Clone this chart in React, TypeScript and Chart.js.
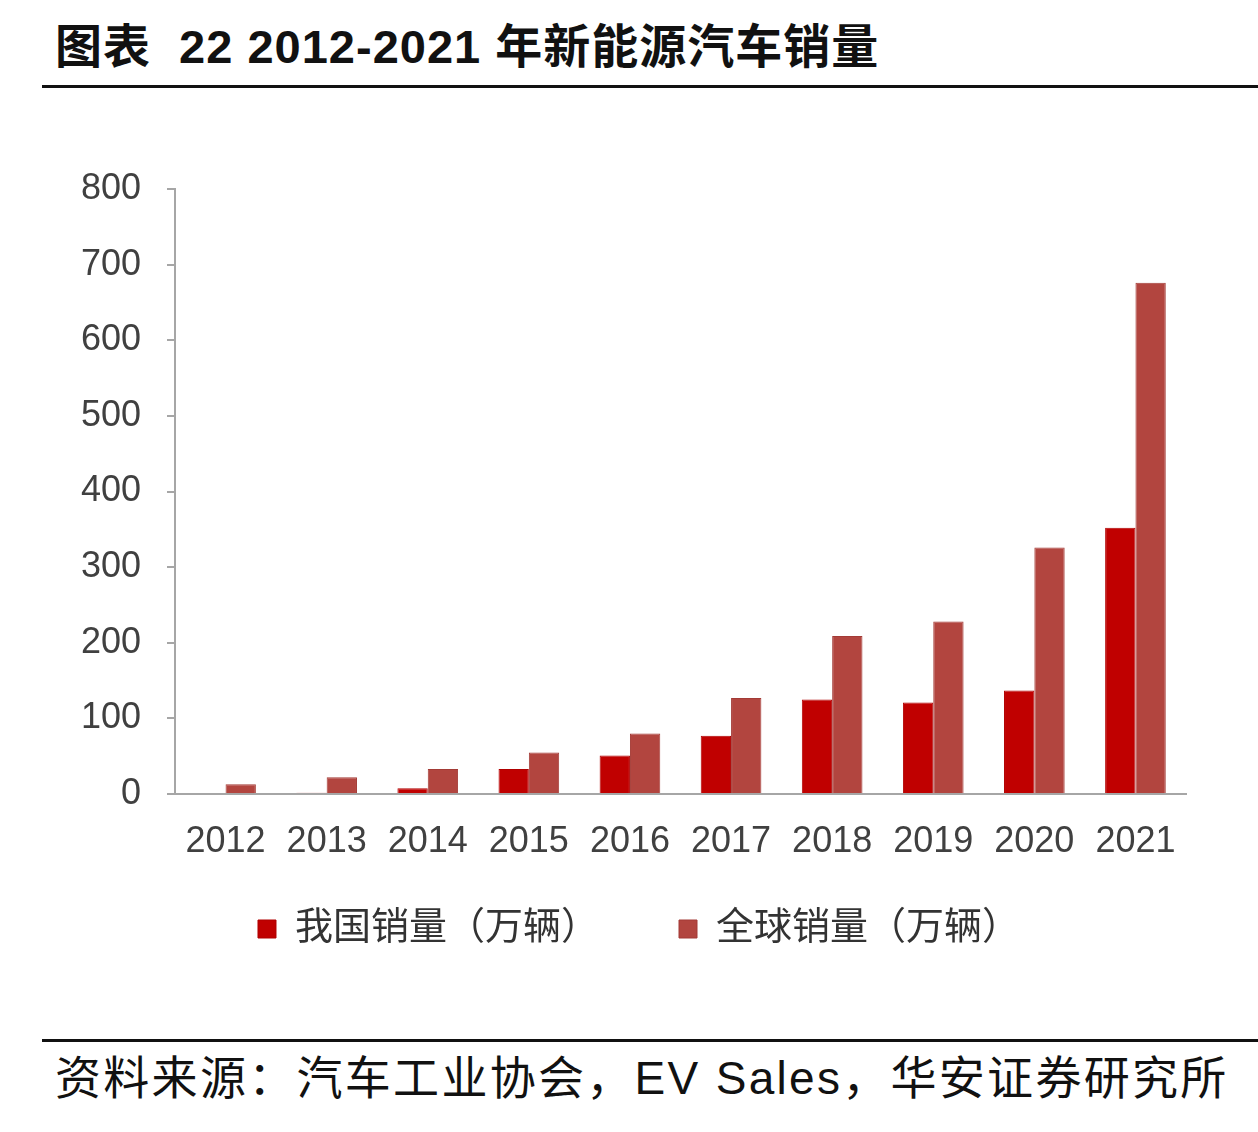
import React, { useEffect, useRef } from "react";
import { Chart, registerables } from "chart.js";

Chart.register(...registerables);

const years = ["2012", "2013", "2014", "2015", "2016", "2017", "2018", "2019", "2020", "2021"];
const chinaSales = [1.3, 1.8, 7.5, 33, 51, 77, 125, 121, 137, 352];
const globalSales = [13, 22, 33, 55, 80, 127, 209, 228, 326, 676];
const seriesNames = ["我国销量（万辆）", "全球销量（万辆）"];
const yTicks = [0, 100, 200, 300, 400, 500, 600, 700, 800];

const titleText = "图表  22 2012-2021 年新能源汽车销量";
const sourceText = "资料来源：汽车工业协会，EV Sales，华安证券研究所";

const CJK = '"Liberation Sans", "Noto Sans CJK SC", sans-serif';

const legendPlace = {
  id: "legendPlace",
  afterLayout(chart: any) {
    const lg = chart.legend;
    if (!lg) return;
    const h = lg.bottom - lg.top;
    lg.left = 92;
    lg.top = 830;
    lg.bottom = 830 + h;
  },
};

export default function App() {
  const ref = useRef<HTMLCanvasElement | null>(null);

  useEffect(() => {
    if (!ref.current) return;
    const chart = new Chart(ref.current, {
      type: "bar",
      data: {
        labels: years,
        datasets: [
          {
            label: seriesNames[0],
            data: chinaSales,
            backgroundColor: "#C00000",
            borderColor: "#B00000",
            borderWidth: 1,
            barPercentage: 1,
            categoryPercentage: 0.6,
          },
          {
            label: seriesNames[1],
            data: globalSales,
            backgroundColor: "#B2453F",
            borderColor: "#A33B36",
            borderWidth: 1,
            barPercentage: 1,
            categoryPercentage: 0.6,
          },
        ],
      },
      plugins: [legendPlace],
      options: {
        responsive: false,
        animation: false,
        maintainAspectRatio: false,
        layout: { padding: { top: 189, right: 72, bottom: 0, left: 0 } },
        plugins: {
          legend: {
            position: "bottom",
            labels: {
              boxWidth: 18,
              boxHeight: 18,
              padding: 80,
              color: "#333333",
              font: { size: 38, family: CJK },
            },
          },
          tooltip: { enabled: false },
        },
        scales: {
          x: {
            grid: { display: false, drawTicks: false },
            border: { display: true, color: "#A6A6A6", width: 2 },
            ticks: {
              color: "#404040",
              padding: 26,
              font: { size: 36, family: '"Liberation Sans", sans-serif' },
              maxRotation: 0,
            },
            afterFit: (s: any) => {
              s.height = 80;
            },
          },
          y: {
            min: 0,
            max: 800,
            afterBuildTicks: (s: any) => {
              s.ticks = yTicks.map((v) => ({ value: v }));
            },
            grid: {
              display: true,
              drawOnChartArea: false,
              drawTicks: true,
              tickLength: 8,
              color: "#A6A6A6",
              lineWidth: 2,
            },
            border: { display: true, color: "#A6A6A6", width: 2 },
            ticks: {
              color: "#404040",
              padding: 26,
              font: { size: 36, family: '"Liberation Sans", sans-serif' },
            },
            afterFit: (s: any) => {
              s.width = 175;
            },
          },
        },
      },
    });
    return () => chart.destroy();
  }, []);

  return (
    <div style={{ position: "absolute", left: 0, top: 0, width: 1258, height: 1132, background: "#ffffff", overflow: "hidden" }}>
      <div
        style={{
          position: "absolute",
          left: 55,
          top: 18,
          fontFamily: CJK,
          fontWeight: 700,
          fontSize: 47,
          lineHeight: "58px",
          letterSpacing: "1px",
          color: "#111111",
          whiteSpace: "pre",
        }}
      >
        {titleText}
      </div>
      <div style={{ position: "absolute", left: 42, top: 85, width: 1216, height: 3, background: "#111111" }} />
      <canvas ref={ref} width={1258} height={1002} style={{ position: "absolute", left: 0, top: 0 }} />
      <div style={{ position: "absolute", left: 42, top: 1039, width: 1216, height: 3, background: "#111111" }} />
      <div
        style={{
          position: "absolute",
          left: 55,
          top: 1050,
          fontFamily: CJK,
          fontSize: 46,
          lineHeight: "56px",
          letterSpacing: "2.3px",
          color: "#111111",
          whiteSpace: "pre",
        }}
      >
        {sourceText}
      </div>
    </div>
  );
}
